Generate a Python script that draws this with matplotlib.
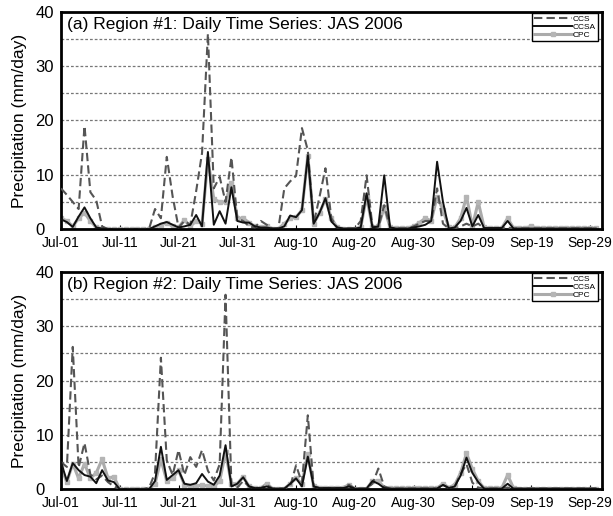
import matplotlib
matplotlib.use("Agg")
import matplotlib.pyplot as plt
import numpy as np

plt.rcParams['font.family'] = ['Liberation Sans', 'DejaVu Sans']

# daily precipitation (mm/day), Jul-01 .. Sep-30 2006
ccs_r1 = [7.5, 6.3, 5.0, 3.7, 19.0, 6.8, 5.3, 0.5, 0.0, 0.0,
          0.0, 0.0, 0.0, 0.0, 0.0, 0.1, 3.7, 2.0, 13.3, 6.0,
          0.3, 1.5, 0.8, 7.0, 14.0, 36.0, 7.5, 9.6, 5.0, 13.2,
          2.0, 1.5, 0.5, 0.3, 1.5, 0.8, 0.1, 0.2, 7.5, 8.8,
          9.8, 18.6, 14.5, 1.0, 6.0, 11.2, 2.0, 0.3, 0.1, 0.1,
          0.1, 1.5, 9.9, 0.5, 0.3, 4.4, 0.3, 0.1, 0.1, 0.1,
          0.5, 1.0, 1.5, 1.5, 7.5, 1.0, 0.1, 0.1, 0.5, 1.0,
          0.5, 1.0, 0.1, 0.1, 0.1, 0.1, 0.3, 0.1, 0.1, 0.1,
          0.1, 0.1, 0.1, 0.1, 0.1, 0.1, 0.1, 0.1, 0.1, 0.1,
          0.1, 0.1]
ccsa_r1 = [1.8, 1.3, 0.4, 2.3, 4.0, 2.0, 0.3, 0.1, 0.0, 0.0,
           0.0, 0.0, 0.0, 0.0, 0.0, 0.0, 0.5, 1.0, 1.3, 0.8,
           0.3, 0.5, 0.8, 2.6, 0.5, 14.2, 0.8, 3.3, 1.0, 7.7,
           1.5, 1.2, 1.2, 0.5, 0.3, 0.3, 0.1, 0.1, 0.5, 2.5,
           2.2, 3.5, 13.5, 1.0, 3.0, 5.7, 1.4, 0.3, 0.1, 0.1,
           0.1, 0.3, 6.6, 0.3, 0.5, 9.9, 0.3, 0.1, 0.1, 0.1,
           0.3, 0.5, 0.8, 1.5, 12.4, 5.0, 0.1, 0.3, 1.5, 3.9,
           0.5, 2.6, 0.2, 0.2, 0.2, 0.2, 1.5, 0.1, 0.1, 0.1,
           0.1, 0.1, 0.1, 0.1, 0.1, 0.1, 0.1, 0.1, 0.1, 0.1,
           0.1, 0.1]
cpc_r1 = [2.0, 1.5, 0.5, 2.0, 3.0, 1.5, 0.3, 0.1, 0.0, 0.0,
          0.0, 0.0, 0.0, 0.0, 0.0, 0.0, 0.3, 0.8, 1.2, 0.5,
          0.3, 1.7, 0.5, 1.5, 1.0, 13.0, 5.5, 5.0, 5.0, 8.5,
          2.0, 2.0, 1.2, 0.5, 0.3, 0.5, 0.1, 0.1, 1.0, 2.0,
          2.2, 3.5, 13.5, 1.0, 3.0, 5.5, 2.0, 0.3, 0.1, 0.1,
          0.1, 0.3, 6.0, 0.3, 0.5, 4.0, 0.3, 0.2, 0.2, 0.2,
          0.5, 1.2, 2.0, 1.5, 6.0, 3.5, 0.3, 0.3, 2.0, 6.0,
          0.5, 5.0, 0.3, 0.2, 0.2, 0.2, 2.0, 0.2, 0.2, 0.2,
          0.5, 0.2, 0.2, 0.2, 0.2, 0.2, 0.2, 0.2, 0.2, 0.2,
          0.2, 0.2]

ccs_r2 = [5.0, 4.1, 26.2, 4.0, 8.5, 2.7, 1.8, 2.5, 1.3, 0.5,
          0.0, 0.0, 0.0, 0.0, 0.0, 0.3, 3.0, 24.2, 5.3, 2.6,
          7.2, 2.6, 5.9, 4.1, 7.2, 3.4, 1.6, 4.6, 35.8, 0.7,
          0.3, 1.5, 0.5, 0.2, 0.2, 0.8, 0.1, 0.1, 0.1, 0.5,
          4.4, 1.2, 13.6, 0.5, 0.2, 0.2, 0.2, 0.2, 0.2, 0.8,
          0.1, 0.1, 0.1, 1.0, 3.8, 0.5, 0.1, 0.1, 0.1, 0.1,
          0.1, 0.1, 0.1, 0.1, 0.1, 0.8, 0.2, 0.5, 2.8, 4.6,
          1.2, 0.3, 0.1, 0.1, 0.1, 0.1, 0.3, 0.1, 0.1, 0.1,
          0.1, 0.1, 0.1, 0.1, 0.1, 0.1, 0.1, 0.1, 0.1, 0.1,
          0.1, 0.1]
ccsa_r2 = [5.0, 1.5, 4.8, 3.5, 2.6, 2.3, 1.1, 3.5, 1.6, 1.3,
           0.0, 0.0, 0.0, 0.0, 0.0, 0.0, 1.5, 7.8, 1.7, 2.6,
           3.5, 1.0, 0.8, 1.1, 2.8, 1.4, 0.8, 2.5, 8.1, 0.5,
           1.0, 2.2, 0.5, 0.2, 0.2, 0.5, 0.1, 0.1, 0.1, 1.0,
           2.0, 0.5, 6.0, 0.5, 0.2, 0.2, 0.2, 0.2, 0.2, 0.5,
           0.1, 0.1, 0.1, 1.5, 1.0, 0.2, 0.1, 0.1, 0.1, 0.1,
           0.1, 0.1, 0.1, 0.1, 0.1, 0.8, 0.2, 0.5, 2.5, 5.8,
           3.0, 1.3, 0.1, 0.1, 0.1, 0.1, 1.0, 0.1, 0.1, 0.1,
           0.1, 0.1, 0.1, 0.1, 0.1, 0.1, 0.1, 0.1, 0.1, 0.1,
           0.1, 0.1]
cpc_r2 = [4.0, 1.3, 4.7, 2.0, 4.7, 2.0, 3.0, 5.5, 2.0, 2.3,
          0.0, 0.0, 0.0, 0.0, 0.0, 0.0, 1.0, 5.5, 1.5, 2.0,
          3.5, 0.8, 0.5, 0.5, 0.8, 0.5, 0.5, 1.5, 6.8, 1.0,
          1.0, 2.3, 0.5, 0.2, 0.2, 1.0, 0.1, 0.1, 0.1, 1.0,
          2.0, 1.0, 6.5, 0.5, 0.3, 0.3, 0.3, 0.3, 0.3, 0.8,
          0.1, 0.1, 0.1, 1.5, 1.5, 0.3, 0.2, 0.2, 0.2, 0.2,
          0.2, 0.2, 0.2, 0.2, 0.2, 1.0, 0.3, 0.8, 3.0, 6.6,
          3.7, 1.5, 0.2, 0.2, 0.2, 0.2, 2.6, 0.2, 0.1, 0.1,
          0.1, 0.1, 0.1, 0.1, 0.1, 0.1, 0.1, 0.1, 0.1, 0.1,
          0.1, 0.1]

date_labels = ['Jul-01', 'Jul-11', 'Jul-21', 'Jul-31', 'Aug-10',
               'Aug-20', 'Aug-30', 'Sep-09', 'Sep-19', 'Sep-29']
titles = ['(a) Region #1: Daily Time Series: JAS 2006',
          '(b) Region #2: Daily Time Series: JAS 2006']


def draw_panel(ax, ccs, ccsa, cpc, title):
    days = np.arange(len(ccs))
    for y in range(5, 40, 5):
        ax.axhline(y, color='#777777', lw=0.9, ls=(0, (2.2, 1.6)), zorder=1)
    ax.plot(days, cpc, color='#ababab', lw=2.2, marker='s', ms=2.5,
            mec='#b5b5b5', mfc='#b5b5b5', label='CPC', zorder=2)
    ax.plot(days, ccs, color='#555555', lw=1.5, ls=(0, (4, 2)),
            label='CCS', zorder=3)
    ax.plot(days, ccsa, color='#111111', lw=1.4, label='CCSA', zorder=4)

    ax.set_xlim(0, 92)
    ax.set_ylim(0, 40)
    ax.set_xticks(np.arange(0, 91, 10))
    ax.set_xticklabels(date_labels, fontsize=10)
    ax.set_yticks([0, 10, 20, 30, 40])
    ax.tick_params(axis='x', direction='in', length=3, pad=5)
    ax.tick_params(axis='y', direction='in', length=0, pad=18.5, labelsize=12)
    for lab in ax.get_yticklabels():
        lab.set_horizontalalignment('left')
    for sp in ax.spines.values():
        sp.set_linewidth(2)
    ax.set_ylabel('Precipitation (mm/day)', fontsize=12.5, labelpad=6)
    ax.text(0.012, 0.975, title, transform=ax.transAxes, fontsize=12.5,
            ha='left', va='top')

    h, l = ax.get_legend_handles_labels()
    order = [1, 2, 0]
    leg = ax.legend([h[i] for i in order], [l[i] for i in order],
                    loc='upper right', bbox_to_anchor=(0.993, 0.995),
                    borderaxespad=0, fontsize=6, handlelength=4.5,
                    handletextpad=0.1, labelspacing=0.0, borderpad=0.25,
                    fancybox=False, framealpha=1)
    leg.get_frame().set_edgecolor('black')
    leg.get_frame().set_linewidth(1)


fig = plt.figure(figsize=(6.13, 5.16), dpi=100)
ax1 = fig.add_axes([0.0995, 0.556, 0.882, 0.421])
ax2 = fig.add_axes([0.0995, 0.052, 0.882, 0.421])

draw_panel(ax1, ccs_r1, ccsa_r1, cpc_r1, titles[0])
draw_panel(ax2, ccs_r2, ccsa_r2, cpc_r2, titles[1])

fig.savefig('out.png', dpi=100)
